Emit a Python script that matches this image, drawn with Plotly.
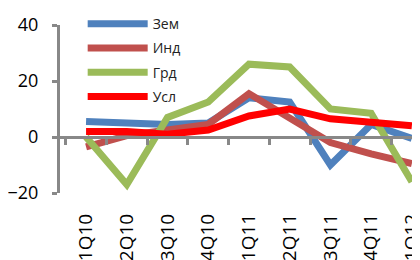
import plotly.graph_objects as go

categories = ["1Q10", "2Q10", "3Q10", "4Q10", "1Q11", "2Q11", "3Q11", "4Q11", "1Q12"]
zem = [5.5, 5, 4.5, 5, 14, 12.5, -10, 4.5, -0.5]
ind = [-3.5, 0.5, 2.5, 4.5, 15.5, 6.5, -2, -6, -9.5]
grd = [0, -17, 7, 12.5, 26, 25, 10, 8.5, -16]
usl = [2, 2, 1, 2.5, 7.5, 10, 6.5, 5.5, 4]
y_ticks = [-20, 0, 20, 40]

series = [
    ("Зем", zem, "#4F81BD"),
    ("Инд", ind, "#C0504D"),
    ("Грд", grd, "#9BBB59"),
    ("Усл", usl, "#FF0000"),
]

fig = go.Figure()
for name, vals, col in series:
    fig.add_trace(go.Scatter(
        x=categories, y=vals, name=name, mode="lines",
        line=dict(color=col, width=7), legendgroup=name,
    ))

axis_gray = "#888888"
fig.update_layout(
    width=412, height=252,
    margin=dict(l=52, r=0, t=7, b=66.5),
    paper_bgcolor="white", plot_bgcolor="white",
    font=dict(family="Open Sans", color="#000000"),
    showlegend=True,
    legend=dict(
        x=0.063, y=1.1, xanchor="left", yanchor="top",
        font=dict(size=14, color="#222222"),
        bgcolor="rgba(0,0,0,0)", tracegroupgap=3,
        itemwidth=60,
    ),
    xaxis=dict(
        type="category", categoryorder="array", categoryarray=categories,
        range=[-0.64, 8.2], showline=False, showgrid=False, zeroline=False,
        ticks="", tickangle=-90, tickfont=dict(size=19),
        ticklabelstandoff=16, automargin=False, ticklabeloverflow="allow",
    ),
    xaxis2=dict(
        type="category", categoryorder="array", categoryarray=categories,
        matches="x", overlaying="x", anchor="free", position=1/3,
        showline=True, linecolor=axis_gray, linewidth=3,
        ticks="outside", tickson="boundaries", ticklen=6, tickwidth=3,
        tickcolor=axis_gray, showticklabels=False, showgrid=False, zeroline=False,
        automargin=False,
    ),
    yaxis=dict(
        range=[-20, 40], tickvals=y_ticks, showgrid=False, zeroline=False,
        showline=True, linecolor=axis_gray, linewidth=3,
        ticks="outside", ticklen=5, tickwidth=3, tickcolor=axis_gray,
        tickfont=dict(size=18), ticklabelstandoff=10, automargin=False,
        ticklabeloverflow="allow",
    ),
)
fig.add_trace(go.Scatter(x=categories, y=[None]*len(categories), xaxis="x2",
                         showlegend=False, hoverinfo="skip"))

fig.write_html("out.html")
